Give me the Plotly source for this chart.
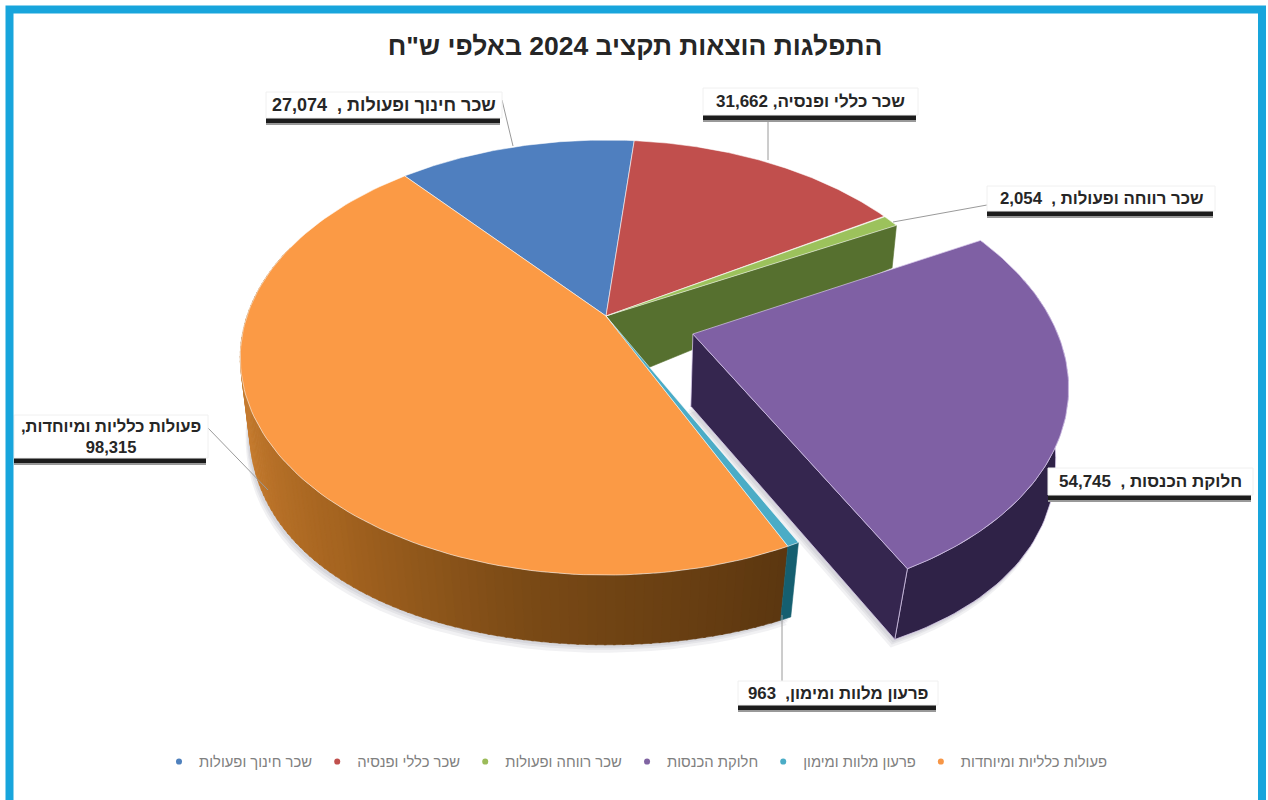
import numpy as np
import plotly.graph_objects as go

# ---------- data ----------
categories = ["שכר חינוך ופעולות", "שכר כללי ופנסיה", "שכר רווחה ופעולות",
              "חלוקת הכנסות", "פרעון מלוות ומימון", "פעולות כלליות ומיוחדות"]
values = [27074, 31662, 2054, 54745, 963, 98315]
label_separators = [" ,  ", ", ", " ,  ", " ,  ", ",  ", ",<br>"]
title_text = 'התפלגות הוצאות תקציב 2024 באלפי ש"ח'

# ---------- styles ----------
legend_colors = ["#4f81bd", "#c0504d", "#9bbb59", "#8064a2", "#4bacc6", "#f79646"]
top_colors = ["#4f7fbf", "#c14f4d", "#9cc25c", "#7f60a4", "#4bacc6", "#fb9a45"]
label_font_sizes = [18, 17, 16.8, 17, 16.8, 16.5]
RLE, PDF = "\u202b", "\u202c"
W, H = 1268, 800
START_ANGLE = -40.0
EXPLODED = 3
EXPLODE_BY = 0.25
CX, CY = 606.0, 316.0


# projection of the pie plane onto the picture (tilted 3-D look)
def top_xy(u, v):
    d = 1 - 0.191 * v
    return CX + 359 * u / d, CY + 209.6 * v / d


def bottom_xy(u, v):
    return CX + 351 * u / (1 - 0.174 * v), CY + 69 + 252 * v / (1 - 0.03 * v)


total = sum(values)
edges = START_ANGLE + np.concatenate([[0], np.cumsum(values)]) / total * 360.0


def offset(i):
    if i != EXPLODED:
        return 0.0, 0.0
    mid = np.radians((edges[i] + edges[i + 1]) / 2)
    return EXPLODE_BY * np.sin(mid), -EXPLODE_BY * np.cos(mid) + 0.008


def rim(i, a0, a1, n=60):
    du, dv = offset(i)
    t = np.radians(np.linspace(a0, a1, n))
    return np.sin(t) + du, -np.cos(t) + dv


fig = go.Figure()


def poly(xs, ys, fill, line=None, width=0.6):
    fig.add_trace(go.Scatter(
        x=list(xs), y=list(ys), mode="lines", fill="toself", fillcolor=fill,
        line=dict(color=line or fill, width=width), showlegend=False, hoverinfo="skip"))


def wall(i, a0, a1, fill, line=None, width=0.6):
    u, v = rim(i, a0, a1)
    x0, y0 = top_xy(u, v)
    x1, y1 = bottom_xy(u, v)
    poly(np.r_[x0, x1[::-1], x0[0]], np.r_[y0, y1[::-1], y0[0]], fill, line, width)


def cut_face(i, angle, fill, line=None, width=0.6):
    du, dv = offset(i)
    t = np.radians(angle)
    u = np.array([du, du + np.sin(t)])
    v = np.array([dv, dv - np.cos(t)])
    x0, y0 = top_xy(u, v)
    x1, y1 = bottom_xy(u, v)
    poly([x0[0], x0[1], x1[1], x1[0], x0[0]], [y0[0], y0[1], y1[1], y1[0], y0[0]], fill, line, width)


def top_face(i, line="rgba(255,255,255,0.55)", width=1):
    du, dv = offset(i)
    u, v = rim(i, edges[i], edges[i + 1], 120)
    x, y = top_xy(np.r_[du, u, du], np.r_[dv, v, dv])
    poly(x, y, top_colors[i], line, width)


def soft_shadow(i, a0, a1, shifts):
    # faint halo below the slice base
    du, dv = offset(i)
    u, v = rim(i, a0, a1)
    x, y = bottom_xy(np.r_[du, u, du], np.r_[dv, v, dv])
    for sx, sy in shifts:
        fig.add_trace(go.Scatter(x=list(x + sx), y=list(y + sy), mode="lines", fill="toself",
                                 fillcolor="rgba(60,60,80,0.07)", line=dict(width=0),
                                 showlegend=False, hoverinfo="skip"))


def mix(stops, t):
    xs = [s[0] for s in stops]
    return "rgb(%d,%d,%d)" % tuple(np.interp(t, xs, [s[1][k] for s in stops]) for k in range(3))


soft_shadow(3, edges[3], edges[4], [(-2, 3), (-3, 5), (-4, 8)])
soft_shadow(5, edges[4], edges[6], [(-2, 3), (-3, 5), (-4, 8)])

# green cut face (exposed by the pulled-out slice)
cut_face(2, edges[3], "#56702f")

# orange wall, shaded along the rim
wall_stops = [(155, (92, 55, 16)), (190, (122, 74, 22)), (220, (165, 100, 32)),
              (250, (196, 122, 46)), (290, (200, 128, 56))]
strips = np.linspace(edges[5], 290, 110)
for a0, a1 in zip(strips[:-1], strips[1:]):
    wall(5, a0, a1 + 0.3, mix(wall_stops, (a0 + a1) / 2))
wall(4, edges[4], edges[5], "#155f70")

for i in [0, 1, 2, 5, 4]:
    top_face(i)

# pulled-out slice
edge_lav = "rgba(215,200,235,0.75)"
wall(3, 75, edges[4], "#2f2247", edge_lav, 1)
cut_face(3, edges[4], "#35264f", edge_lav, 1)
top_face(3, "rgba(215,200,235,0.7)", 1)

# legend entries
for name, color in zip(categories, legend_colors):
    fig.add_trace(go.Scatter(x=[None], y=[None], mode="markers", name=name,
                             marker=dict(color=color, size=6)))

# ---------- label boxes: (x0, y0, x1, y1), leader line ----------
boxes = [
    ((266, 92, 502, 118), (502, 100, 513, 146)),
    ((703, 88, 918, 115), (768, 115, 768, 160)),
    ((987, 186, 1215, 211), (987, 205, 893, 222)),
    ((1048, 468, 1253, 495), None),
    ((738, 681, 938, 705), (782, 681, 782, 615)),
    ((14, 415, 208, 458), (208, 428, 268, 490)),
]
shapes, annotations = [], []
for i, (box, leader) in enumerate(boxes):
    x0, y0, x1, y1 = box
    if leader:
        shapes.append(dict(type="line", x0=leader[0], y0=leader[1], x1=leader[2], y1=leader[3],
                           line=dict(color="#9a9a9a", width=1)))
    shapes.append(dict(type="rect", x0=x0, y0=y1 + 4, x1=x1 - 2, y1=y1 + 7,
                       fillcolor="#999999", line_width=0))
    shapes.append(dict(type="rect", x0=x0, y0=y1, x1=x1 - 2, y1=y1 + 5,
                       fillcolor="#1c1c1c", line_width=0))
    shapes.append(dict(type="rect", x0=x0, y0=y0, x1=x1, y1=y1,
                       fillcolor="white", line=dict(color="#f0f0f0", width=1)))
    annotations.append(dict(
        x=(x0 + x1) / 2, y=(y0 + y1) / 2, xref="x", yref="y", showarrow=False, align="center",
        text=RLE + categories[i] + label_separators[i] + f"{values[i]:,}" + PDF,
        font=dict(family="Liberation Sans", size=label_font_sizes[i], color="#262626", weight="bold")))

# blue picture frame
shapes.append(dict(type="rect", x0=9.5, y0=9.5, x1=1262, y1=830,
                   line=dict(color="#18a5dc", width=8), fillcolor="rgba(0,0,0,0)"))

fig.update_layout(
    width=W, height=H, margin=dict(l=0, r=0, t=0, b=0),
    paper_bgcolor="white", plot_bgcolor="white",
    xaxis=dict(range=[0, W], visible=False, fixedrange=True),
    yaxis=dict(range=[H, 0], visible=False, fixedrange=True),
    title=dict(text=RLE + title_text + PDF, x=635 / W, y=1 - 46 / H, xanchor="center", yanchor="middle",
               font=dict(family="Liberation Sans", size=26.5, color="#262626", weight="bold")),
    legend=dict(orientation="h", x=636 / W, y=1 - 762 / H, xanchor="center", yanchor="middle",
                font=dict(family="Liberation Sans", size=14.8, color="#808080"),
                bgcolor="rgba(0,0,0,0)"),
    shapes=shapes, annotations=annotations,
)
fig.write_html("out.html", config=dict(displayModeBar=False),
               post_script="document.body.style.margin='0';")
